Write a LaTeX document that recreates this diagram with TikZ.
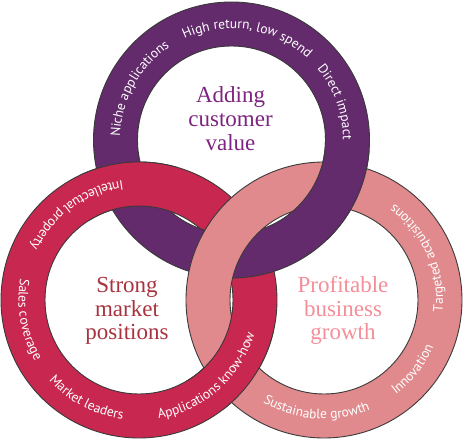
\documentclass[tikz,border=0pt]{standalone}
\usepackage{fontspec}
\setmainfont{Liberation Serif}
\newfontfamily\ringfont{PT Sans}
\usetikzlibrary{decorations.text}
\definecolor{purplering}{HTML}{632A6C}
\definecolor{redring}{HTML}{C8284F}
\definecolor{pinkring}{HTML}{E08A8D}
\definecolor{ringline}{HTML}{3A3A3A}
\definecolor{purpletext}{HTML}{7D2480}
\definecolor{redtext}{HTML}{A8323E}
\definecolor{pinktext}{HTML}{F48E98}
\newcommand\ringfmt{\color{white}\ringfont\fontsize{13.5}{15}\selectfont}
\begin{document}
\begin{tikzpicture}[x=1pt,y=1pt,
  ring/.style={draw=ringline, line width=0.9pt, even odd rule},
  ringtext/.style={decorate, decoration={text along path, text align=center, text={|\ringfmt|#1}}},
  ctext/.style={font=\fontsize{23}{24}\selectfont, anchor=base, inner sep=0pt}]
\useasboundingbox (0,0) rectangle (464,439);
\coordinate (R) at (139,139);
\coordinate (K) at (324,139);
\coordinate (P) at (231.5,299);
% base rings
\path[ring, fill=redring] (R) circle[radius=138] (R) circle[radius=94];
\path[ring, fill=purplering] (P) circle[radius=138] (P) circle[radius=94];
\path[ring, fill=pinkring] (K) circle[radius=138] (K) circle[radius=94];
% weave corrections
\begin{scope}
  \clip (130,251) circle[radius=52];
  \path[ring, fill=redring] (R) circle[radius=138] (R) circle[radius=94];
\end{scope}
\begin{scope}
  \clip (231.5,79) circle[radius=50];
  \path[ring, fill=redring] (R) circle[radius=138] (R) circle[radius=94];
\end{scope}
\begin{scope}
  \clip (333,251) circle[radius=52];
  \path[ring, fill=purplering] (P) circle[radius=138] (P) circle[radius=94];
\end{scope}
% ring texts: purple (clockwise)
\path[ringtext={Niche applications}] (P) ++(201:111.5) arc[start angle=201, end angle=101, radius=111.5];
\path[ringtext={High return, low spend}] (P) ++(131:111.5) arc[start angle=131, end angle=31, radius=111.5];
\path[ringtext={Direct impact}] (P) ++(70:111.5) arc[start angle=70, end angle=-30, radius=111.5];
% red (counter-clockwise)
\path[ringtext={Intellectual property}] (R) ++(76:120.5) arc[start angle=76, end angle=176, radius=120.5];
\path[ringtext={Sales coverage}] (R) ++(140:120.5) arc[start angle=140, end angle=240, radius=120.5];
\path[ringtext={Market leaders}] (R) ++(192:120.5) arc[start angle=192, end angle=292, radius=120.5];
\path[ringtext={Applications know-how}] (R) ++(261.5:120.5) arc[start angle=261.5, end angle=361.5, radius=120.5];
% pink (counter-clockwise)
\path[ringtext={Sustainable growth}] (K) ++(216:119) arc[start angle=216, end angle=316, radius=119];
\path[ringtext={Innovation}] (K) ++(272:119) arc[start angle=272, end angle=372, radius=119];
\path[ringtext={Targeted acquisitions}] (K) ++(-26:119) arc[start angle=-26, end angle=74, radius=119];
% centre labels
\node[ctext, text=purpletext] (p1) at (230.5,336.3) {Adding};
\node[ctext, text=purpletext] (p2) at (230.5,312.3) {customer};
\node[ctext, text=purpletext] (p3) at (230.5,288.3) {value};
\node[ctext, text=redtext] (r1) at (127,146) {Strong};
\node[ctext, text=redtext] (r2) at (127,122.5) {market};
\node[ctext, text=redtext] (r3) at (127,99) {positions};
\node[ctext, text=pinktext] (k1) at (343,146) {Profitable};
\node[ctext, text=pinktext] (k2) at (343,122.5) {business};
\node[ctext, text=pinktext] (k3) at (343,99) {growth};
\end{tikzpicture}
\end{document}
